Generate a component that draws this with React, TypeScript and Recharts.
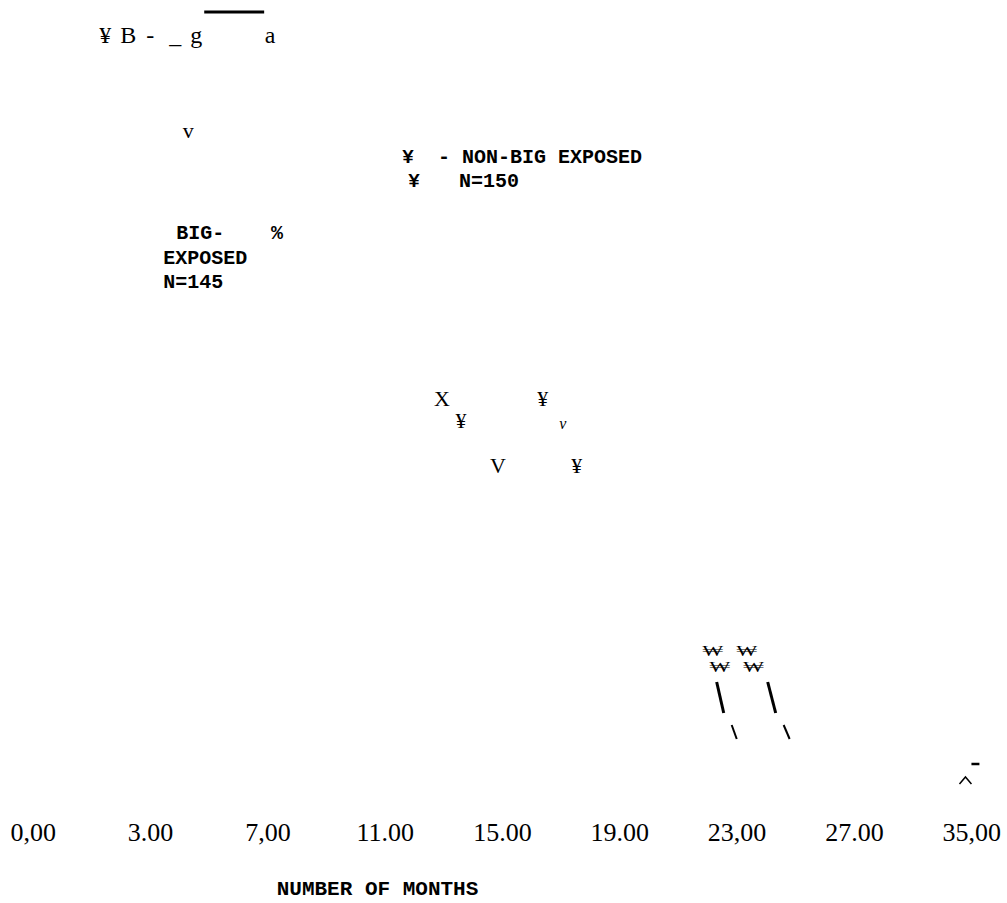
import React from 'react';
import { ScatterChart, Scatter, XAxis, YAxis } from 'recharts';

// x axis: one unit per printed tick, y: 0..100 over the plot height
const TICKS = [0, 1, 2, 3, 4, 5, 6, 7, 8];
const TICK_LABELS = ['0,00', '3.00', '7,00', '11.00', '15.00', '19.00', '23,00', '27.00', '35,00'];
const AXIS_TITLE = 'NUMBER OF MONTHS';

// stray glyphs left over in the scan
const headerGlyphs = [
  { t: '¥', x: 0.613, y: 96.9 },
  { t: 'B', x: 0.809, y: 96.9 },
  { t: '-', x: 0.997, y: 96.9 },
  { t: '_', x: 1.21, y: 96.9 },
  { t: 'g', x: 1.388, y: 96.9 },
  { t: 'a', x: 2.019, y: 96.9 },
];

const midGlyphs = [
  { t: 'v', x: 1.32, y: 85.0 },
  { t: 'X', x: 3.484, y: 51.5 },
  { t: '¥', x: 3.646, y: 48.75 },
  { t: '¥', x: 4.344, y: 51.5 },
  { t: 'V', x: 3.961, y: 43.125 },
  { t: '¥', x: 4.634, y: 43.125 },
];

const italicGlyphs = [{ t: 'v', x: 4.514, y: 48.375 }];

const wonGlyphs = [
  { t: '₩', x: 5.792, y: 19.875 },
  { t: '₩', x: 6.082, y: 19.875 },
  { t: '₩', x: 5.852, y: 17.875 },
  { t: '₩', x: 6.141, y: 17.875 },
];

// legend labels (left edge)
const legendText = [
  { t: '¥  - NON-BIG EXPOSED', x: 3.143, y: 81.625 },
  { t: '¥', x: 3.194, y: 78.625 },
  { t: 'N=150', x: 3.629, y: 78.625 },
  { t: 'BIG-', x: 1.218, y: 72.125 },
  { t: '%', x: 2.027, y: 72.125 },
  { t: 'EXPOSED', x: 1.107, y: 69.0 },
  { t: 'N=145', x: 1.107, y: 66.0 },
];

const topRule = [{ x: 1.457, y: 99.75 }, { x: 1.968, y: 99.75 }];
const thickStrokes = [
  [{ x: 5.826, y: 16.0 }, { x: 5.886, y: 12.125 }],
  [{ x: 6.261, y: 16.0 }, { x: 6.329, y: 12.125 }],
];
const thinStrokes = [
  [{ x: 5.954, y: 10.625 }, { x: 5.997, y: 8.875 }],
  [{ x: 6.397, y: 10.625 }, { x: 6.448, y: 8.875 }],
];
const dash = [{ x: 7.998, y: 5.75 }, { x: 8.066, y: 5.75 }];
const caret = [{ x: 7.896, y: 3.25 }, { x: 7.947, y: 4.125 }, { x: 7.998, y: 3.25 }];

const SERIF = '"Liberation Serif", "DejaVu Serif", serif';
const MONO = '"Liberation Mono", "DejaVu Sans Mono", monospace';

const glyph = (
  family: string,
  size: number,
  anchor: 'start' | 'middle',
  weight = 'normal',
  style = 'normal',
  stretch?: number,
) =>
  (props: any) => {
    const { cx, cy, payload } = props;
    return (
      <text
        x={cx}
        y={cy}
        textAnchor={anchor}
        dominantBaseline="central"
        fontFamily={family}
        fontSize={size}
        fontWeight={weight}
        fontStyle={style}
        fill="#000"
        textLength={stretch}
        lengthAdjust={stretch ? 'spacingAndGlyphs' : undefined}
        style={{ whiteSpace: 'pre' }}
      >
        {payload.t}
      </text>
    );
  };

const noDot = () => <g />;

export default function App() {
  return (
    <div style={{ position: 'absolute', left: 0, top: 0, width: 1007, height: 903, background: '#fff' }}>
      <ScatterChart width={1007} height={903} margin={{ top: 10, right: 6, bottom: 13, left: 4 }}>
        <XAxis
          type="number"
          dataKey="x"
          domain={[-0.25, 8.25]}
          ticks={TICKS}
          interval={0}
          axisLine={false}
          tickLine={false}
          tickMargin={7}
          height={80}
          tickFormatter={(v: number) => TICK_LABELS[v] ?? ''}
          tick={{ fontFamily: SERIF, fontSize: 26, fill: '#000' }}
          label={{
            value: AXIS_TITLE,
            position: 'insideBottom',
            offset: -5,
            dx: -125,
            fontFamily: MONO,
            fontSize: 21,
            fontWeight: 'bold',
            fill: '#000',
            style: { whiteSpace: 'pre' },
          }}
        />
        <YAxis type="number" dataKey="y" domain={[0, 100]} hide />

        <Scatter data={topRule} line={{ stroke: '#000', strokeWidth: 3 }} shape={noDot} isAnimationActive={false} />
        {thickStrokes.map((s, i) => (
          <Scatter key={`thick-${i}`} data={s} line={{ stroke: '#000', strokeWidth: 3 }} shape={noDot} isAnimationActive={false} />
        ))}
        {thinStrokes.map((s, i) => (
          <Scatter key={`thin-${i}`} data={s} line={{ stroke: '#000', strokeWidth: 2 }} shape={noDot} isAnimationActive={false} />
        ))}
        <Scatter data={dash} line={{ stroke: '#000', strokeWidth: 2.5 }} shape={noDot} isAnimationActive={false} />
        <Scatter data={caret} line={{ stroke: '#000', strokeWidth: 1.5 }} shape={noDot} isAnimationActive={false} />

        <Scatter data={headerGlyphs} shape={glyph(SERIF, 24, 'middle')} isAnimationActive={false} />
        <Scatter data={midGlyphs} shape={glyph(SERIF, 22, 'middle')} isAnimationActive={false} />
        <Scatter data={italicGlyphs} shape={glyph(SERIF, 16, 'middle', 'normal', 'italic')} isAnimationActive={false} />
        <Scatter data={wonGlyphs} shape={glyph(SERIF, 14, 'middle', 'normal', 'normal', 21)} isAnimationActive={false} />
        <Scatter data={legendText} shape={glyph(MONO, 20, 'start', 'bold')} isAnimationActive={false} />
      </ScatterChart>
    </div>
  );
}
